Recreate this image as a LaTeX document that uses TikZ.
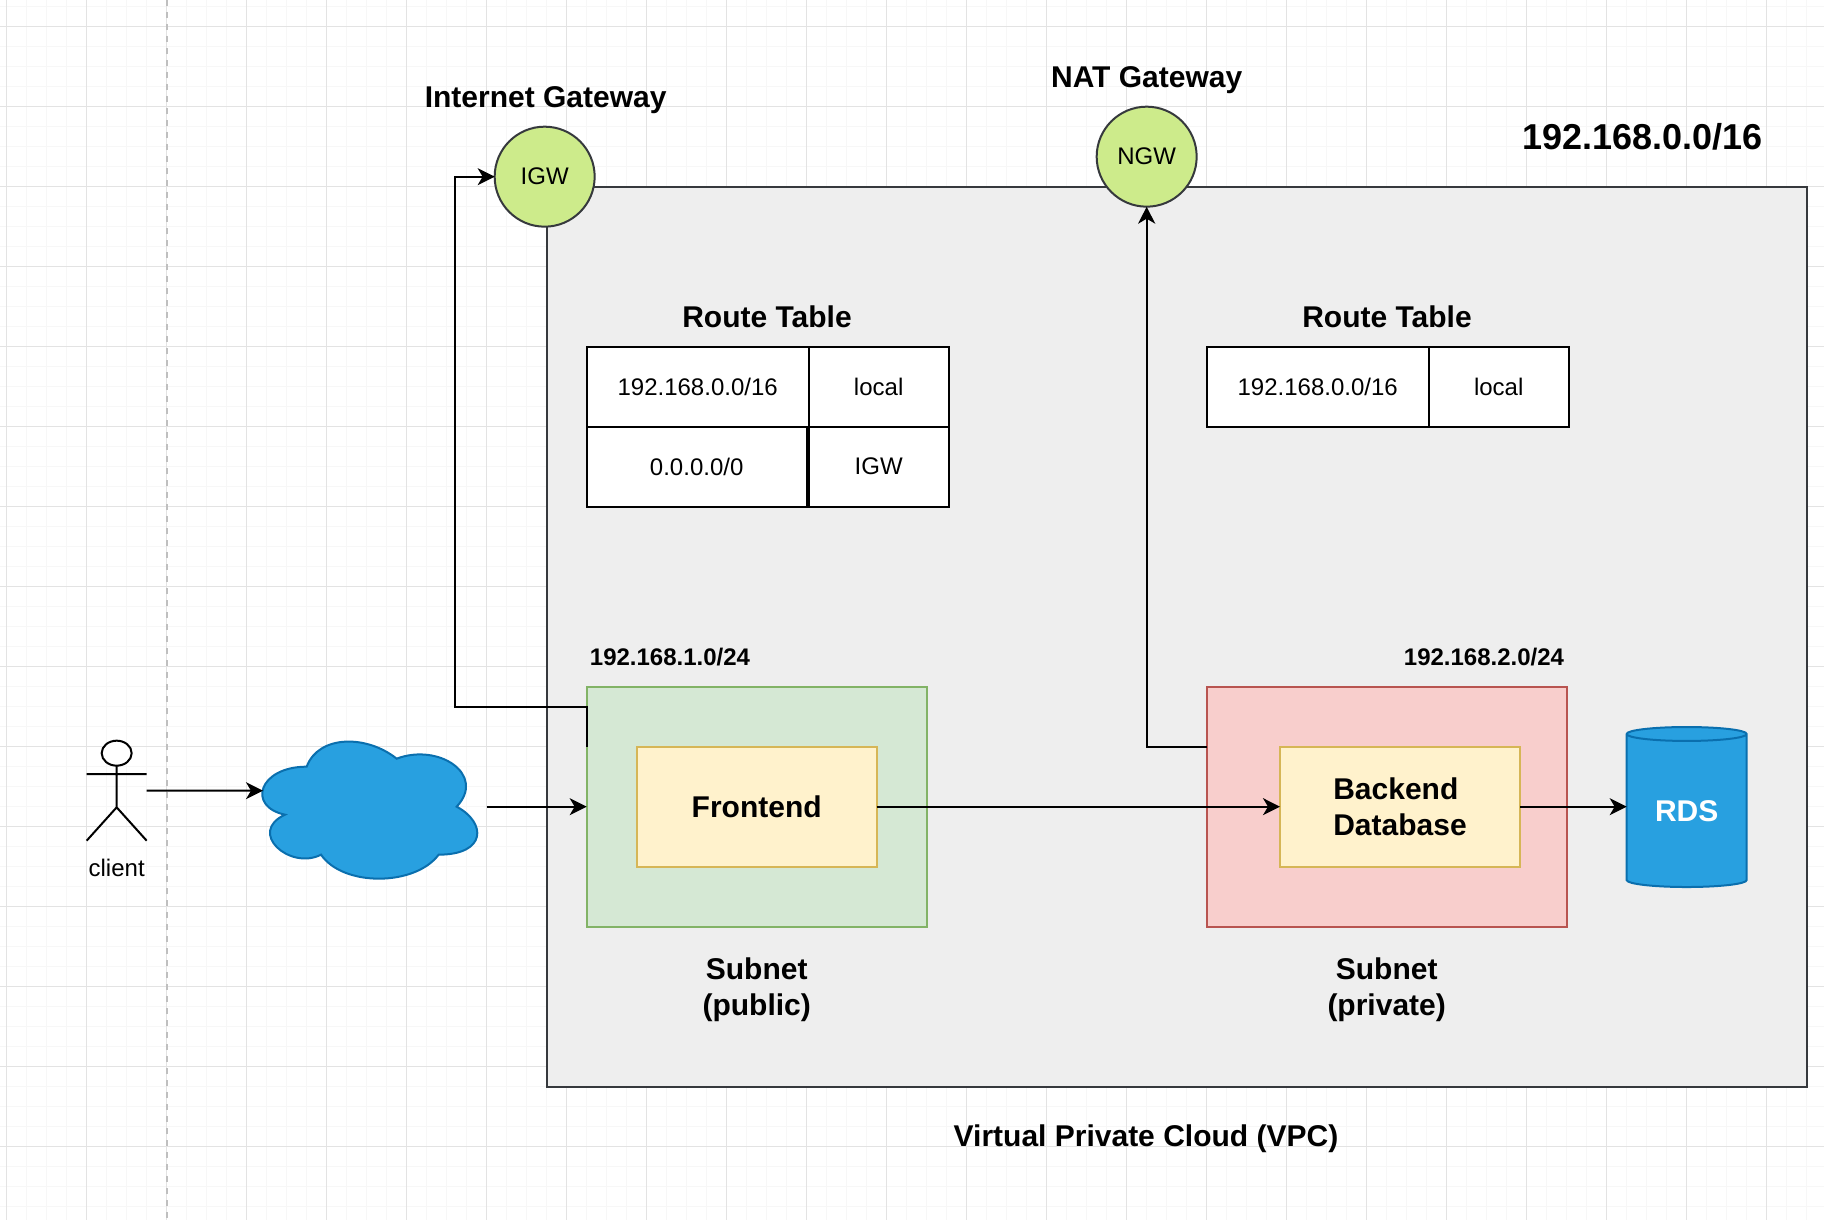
\documentclass[tikz,border=0pt]{standalone}
\usepackage{fontspec}
\setmainfont{Liberation Sans}
\usetikzlibrary{shapes.geometric, arrows.meta, positioning, calc}
\definecolor{vpc_fill}{HTML}{EEEEEE}
\definecolor{dark_line}{HTML}{36393D}
\definecolor{gateway_fill}{HTML}{CDEB8B}
\definecolor{public_fill}{HTML}{D5E8D4}
\definecolor{public_line}{HTML}{82B366}
\definecolor{private_fill}{HTML}{F8CECC}
\definecolor{private_line}{HTML}{B85450}
\definecolor{app_fill}{HTML}{FFF2CC}
\definecolor{app_line}{HTML}{D6B656}
\definecolor{aws_fill}{HTML}{28A0E0}
\definecolor{aws_line}{HTML}{0A6FAE}

\begin{document}
\begin{tikzpicture}[
    x=1pt,
    y=-1pt,
    % Styles embedded for portability
    box_base/.style={rectangle, inner sep=0pt, outer sep=0pt, line width=2pt, align=center},
    box_vpc/.style={box_base, draw=dark_line, fill=vpc_fill, minimum width=1260pt, minimum height=900pt},
    box_public/.style={box_base, draw=public_line, fill=public_fill, minimum width=340pt, minimum height=240pt},
    box_private/.style={box_base, draw=private_line, fill=private_fill, minimum width=360pt, minimum height=240pt},
    box_app/.style={box_base, draw=app_line, fill=app_fill, minimum width=240pt, minimum height=120pt, font=\fontsize{30}{36}\selectfont\bfseries},
    cell/.style={box_base, draw=black, fill=white, minimum height=80pt, font=\fontsize{24}{28}\selectfont},
    gateway/.style={circle, inner sep=0pt, outer sep=0pt, minimum size=100pt, line width=2pt, draw=dark_line, fill=gateway_fill, font=\fontsize{24}{28}\selectfont},
    rds_can/.style={cylinder, shape border rotate=90, aspect=0.22, inner sep=0pt, outer sep=0pt, minimum width=120pt, minimum height=160pt, line width=2pt, draw=aws_line, fill=aws_fill, text=white, font=\fontsize{30}{36}\selectfont\bfseries},
    title_big/.style={inner sep=0pt, align=center, font=\fontsize{30}{36}\selectfont\bfseries},
    title_small/.style={inner sep=0pt, align=center, font=\fontsize{24}{28}\selectfont\bfseries},
    line/.style={draw, black, line width=2pt, -{Stealth[length=17pt, width=17pt, inset=5pt]}},
    grid_minor/.style={draw=black!3, line width=1pt},
    grid_major/.style={draw=black!11, line width=1pt}
]
    \useasboundingbox (0,0) rectangle (1824,1220);

    % --- PAGE GRID ---
    \foreach \gx in {6.67,26.67,...,1824} \draw [grid_minor] (\gx,0) -- (\gx,1220);
    \foreach \gy in {6.67,26.67,...,1220} \draw [grid_minor] (0,\gy) -- (1824,\gy);
    \foreach \gx in {6.67,86.67,...,1824} \draw [grid_major] (\gx,0) -- (\gx,1220);
    \foreach \gy in {26.67,106.67,...,1220} \draw [grid_major] (0,\gy) -- (1824,\gy);
    \draw [draw=black!25, line width=2pt, dash pattern=on 6pt off 6pt] (166.67,0) -- (166.67,1220);

    % --- VPC AND GATEWAYS ---
    \node [box_vpc, anchor=north west] (vpc) at (546.67,186.67) {};
    \node [gateway] (igw) at (544.67,176.67) {IGW};
    \node [gateway] (ngw) at (1146.67,156.67) {NGW};
    \node [title_big, above=13pt of igw, xshift=1pt] (igw_title) {Internet Gateway};
    \node [title_big, above=13pt of ngw] (ngw_title) {NAT Gateway};
    \node [inner sep=0pt, font=\fontsize{36}{42}\selectfont\bfseries] (vpc_cidr) at (1642.5,137) {192.168.0.0/16};
    \node [title_big] (vpc_title) at (1146,1139) {Virtual Private Cloud (VPC)};

    % --- ROUTE TABLES ---
    \node [cell, anchor=north west, minimum width=222pt] (pub_dest) at (586.67,346.67) {192.168.0.0/16};
    \node [cell, right=0pt of pub_dest, minimum width=140pt] (pub_local) {local};
    \node [cell, below=0pt of pub_dest.south west, anchor=north west, minimum width=220pt] (pub_any) {0.0.0.0/0};
    \node [cell, below=0pt of pub_local, minimum width=140pt] (pub_igw) {IGW};
    \node [title_big] (pub_table) at (767,316.5) {Route Table};

    \node [cell, anchor=north west, minimum width=222pt] (priv_dest) at (1206.67,346.67) {192.168.0.0/16};
    \node [cell, right=0pt of priv_dest, minimum width=140pt] (priv_local) {local};
    \node [title_big] (priv_table) at (1387,316.5) {Route Table};

    % --- SUBNETS ---
    \node [box_public, anchor=north west] (subnet_public) at (586.67,686.67) {};
    \node [box_private, anchor=north west] (subnet_private) at (1206.67,686.67) {};
    \node [box_app] (frontend) at (subnet_public) {Frontend};
    \node [box_app, align=left] (backend) at (1400,806.67) {Backend\\Database};
    \node [title_small] (public_cidr) at (670,657) {192.168.1.0/24};
    \node [title_small] (private_cidr) at (1484,657) {192.168.2.0/24};
    \node [title_big, below=31pt of subnet_public] (public_title) {Subnet\\(public)};
    \node [title_big, below=31pt of subnet_private] (private_title) {Subnet\\(private)};
    \node [rds_can] (rds) at (1686.67,811) {RDS};

    % --- CLIENT AND INTERNET ---
    \draw [line width=2pt, black, fill=white] (116.67,753.17) ellipse [x radius=15, y radius=12.5];
    \draw [line width=2pt, black] (116.67,765.67) -- (116.67,807.33) (86.67,774) -- (146.67,774)
        (86.67,840.67) -- (116.67,807.33) -- (146.67,840.67);
    \node [cell, draw=none, fill=none, minimum height=0pt] (client) at (116.67,868) {client};
    \coordinate (client_out) at (146.67,790.67);

    \begin{scope}[shift={(246.67,726.67)}, x=240pt, y=-160pt]
        \draw [line width=2pt, draw=aws_line, fill=aws_fill] (0.25,0.25)
            .. controls (0.05,0.25) and (0,0.5) .. (0.16,0.55)
            .. controls (0,0.66) and (0.18,0.9) .. (0.31,0.8)
            .. controls (0.4,1) and (0.7,1) .. (0.8,0.8)
            .. controls (1,0.8) and (1,0.6) .. (0.875,0.5)
            .. controls (1,0.3) and (0.8,0.1) .. (0.625,0.2)
            .. controls (0.5,0.05) and (0.3,0.05) .. (0.25,0.25) -- cycle;
        \coordinate (cloud_in) at (0.068,0.4);
        \coordinate (cloud_out) at (1,0.5);
    \end{scope}

    % --- CONNECTIONS ---
    \coordinate (igw_bend) at (454.67,706.67);
    \draw [line] (client_out) -- (cloud_in);
    \draw [line] (cloud_out) -- (subnet_public.west);
    \draw [line] (subnet_public.west |- frontend.north) |- (igw_bend) |- (igw.west);
    \draw [line] (subnet_private.west |- backend.north) -| (ngw.south);
    \draw [line] (frontend.east) -- (backend.west);
    \draw [line] (backend.east) -- (rds.west |- backend.east);

\end{tikzpicture}
\end{document}
